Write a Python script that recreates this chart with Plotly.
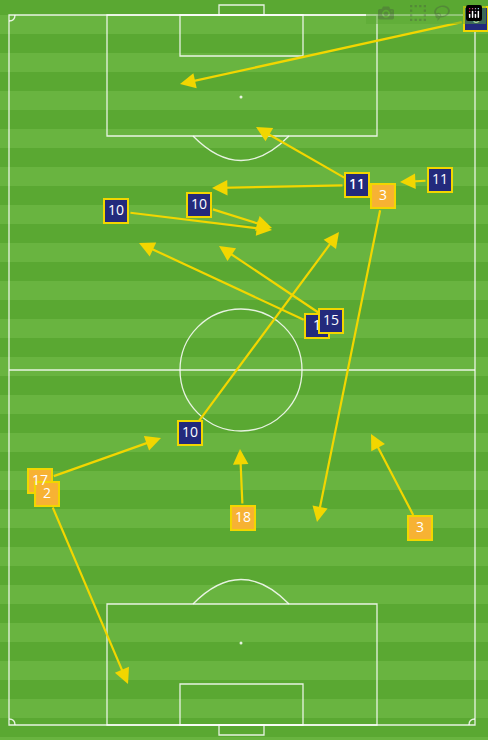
import plotly.graph_objects as go

# pass data in pixel coordinates of the pitch picture (x right, y down)
labels = ["6", "11", "11", "11", "3", "10", "10", "1", "15", "10", "17", "2", "18", "3"]
teams = ["home", "home", "home", "home", "away", "home", "home", "home", "home", "home", "away", "away", "away", "away"]
start_x = [476, 357, 357, 440, 383, 116, 199, 317, 331, 190, 40, 47, 243, 420]
start_y = [19, 185, 185, 180, 196, 211, 205, 326, 321, 433, 481, 494, 518, 528]
end_x = [180, 256, 212, 400, 317, 272, 272, 139, 219, 339, 161, 128, 240, 371]
end_y = [84, 127, 188, 182, 522, 230, 228, 243, 246, 232, 438, 684, 449, 434]

W, H = 488, 740
dark, light = "#5aa832", "#69b440"
line_col = "rgba(255,255,255,0.85)"
yellow = "#f2d600"

shapes = [dict(type="rect", x0=0, x1=W, y0=0, y1=H, fillcolor=dark, line_width=0, layer="below")]
y = 15
k = 0
while y < H:
    if k % 2 == 0:
        shapes.append(dict(type="rect", x0=0, x1=W, y0=y, y1=y + 19, fillcolor=light, line_width=0, layer="below"))
    y += 19
    k += 1

def ln(**kw):
    d = dict(line=dict(color=line_col, width=1.3), layer="below")
    d.update(kw)
    return d

shapes += [
    ln(type="rect", x0=9, x1=475, y0=15, y1=725),
    ln(type="line", x0=9, x1=475, y0=370, y1=370),
    ln(type="circle", x0=180, x1=302, y0=309, y1=431),
    ln(type="rect", x0=107, x1=377, y0=15, y1=136),
    ln(type="rect", x0=180, x1=303, y0=15, y1=56),
    ln(type="rect", x0=219, x1=264, y0=5, y1=15),
    ln(type="rect", x0=107, x1=377, y0=604, y1=725),
    ln(type="rect", x0=180, x1=303, y0=684, y1=725),
    ln(type="rect", x0=219, x1=264, y0=725, y1=735),
    ln(type="path", path="M 193,136 Q 241,185 289,136"),
    ln(type="path", path="M 193,604 Q 241,555 289,604"),
    ln(type="path", path="M 9,21 Q 15,21 15,15"),
    ln(type="path", path="M 475,21 Q 469,21 469,15"),
    ln(type="path", path="M 9,719 Q 15,719 15,725"),
    ln(type="path", path="M 475,719 Q 469,719 469,725"),
]

fig = go.Figure()
for t, col in [("home", "#232a7c"), ("away", "#f7b233")]:
    idx = [i for i in range(len(labels)) if teams[i] == t]
    fig.add_trace(go.Scatter(
        x=[start_x[i] for i in idx], y=[start_y[i] for i in idx],
        text=[labels[i] for i in idx], mode="markers+text",
        marker=dict(symbol="square", size=24, color=col, line=dict(color=yellow, width=2)),
        textfont=dict(color="white", size=14, family="Open Sans"),
        textposition="middle center", hoverinfo="skip", showlegend=False))
fig.add_trace(go.Scatter(x=[241, 241], y=[97, 643], mode="markers",
                         marker=dict(size=3, color=line_col), hoverinfo="skip", showlegend=False))

ann = []
for i in range(len(labels)):
    ann.append(dict(x=end_x[i], y=end_y[i], ax=start_x[i], ay=start_y[i],
                    xref="x", yref="y", axref="x", ayref="y", text="",
                    showarrow=True, arrowhead=2, arrowsize=1.4, arrowwidth=2.2,
                    arrowcolor=yellow, startstandoff=13))

fig.update_layout(
    width=W, height=H, margin=dict(l=0, r=0, t=0, b=0),
    paper_bgcolor=dark, plot_bgcolor=dark, shapes=shapes, annotations=ann,
    xaxis=dict(range=[0, W], visible=False, fixedrange=True),
    yaxis=dict(range=[H, 0], visible=False, fixedrange=True),
)
fig.write_html("out.html", post_script="document.body.style.margin='0';document.body.style.overflow='hidden';")
